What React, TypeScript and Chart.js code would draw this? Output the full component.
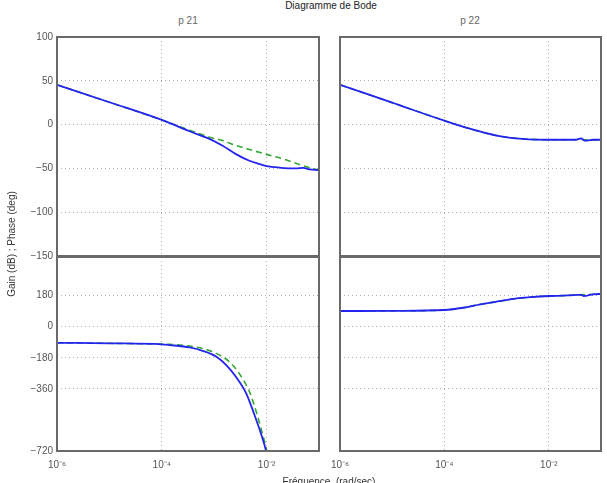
import React, { useEffect, useRef } from "react";
import { Chart, registerables } from "chart.js";

Chart.register(...registerables);

// ---------- data ----------
const xTicks = [1e-6, 1e-4, 1e-2];
const gainTicks = [-150, -100, -50, 0, 50, 100];
const phaseTicks = [-720, -360, -180, 0, 180];

// p 21 gain
const freqGain21Meas = [1e-6, 1e-5, 1e-4, 3.4e-4, 8.1e-4, 1.45e-3, 2.6e-3, 4.7e-3, 7.2e-3, 1e-2, 1.74e-2, 3.6e-2, 5e-2, 6.5e-2, 1e-1];
const gain21Meas = [45.5, 25.5, 5.3, -7.6, -16.3, -24.2, -33.7, -41.3, -45, -47.3, -49, -50, -49.4, -51, -52];
const freqGain21Model = [1e-6, 1e-5, 1e-4, 3.4e-4, 8.1e-4, 1.45e-3, 2.6e-3, 4.7e-3, 1e-2, 2.2e-2, 3.6e-2, 6.5e-2, 1e-1];
const gain21Model = [45.5, 25.5, 5.3, -6.4, -14.4, -18.2, -23.9, -28.4, -34, -39.7, -44.2, -49, -52];

// p 22 gain
const freqGain22Meas = [1e-6, 1e-5, 1e-4, 3.2e-4, 1e-3, 3.2e-3, 1e-2, 3.2e-2, 4.2e-2, 4.8e-2, 5.5e-2, 7e-2, 1e-1];
const gain22Meas = [45.5, 25, 4.5, -5, -12.5, -16.3, -17.3, -17.3, -15.8, -18.2, -18.2, -17.3, -17.3];
const freqGain22Model = [1e-6, 1e-5, 1e-4, 3.2e-4, 1e-3, 3.2e-3, 1e-2, 3.2e-2, 1e-1];
const gain22Model = [45.5, 25, 4.5, -5, -12.5, -16.3, -17.3, -17.3, -17.5];

// p 21 phase
const freqPhase21Meas = [1e-6, 1e-5, 1e-4, 1.4e-4, 3.4e-4, 6.2e-4, 1.1e-3, 1.7e-3, 2.6e-3, 4.1e-3, 5.9e-3, 7.8e-3, 9.8e-3, 1.17e-2];
const phase21Meas = [-93, -96, -102, -106, -120, -141, -174, -222, -290, -387, -513, -619, -722, -850];
const freqPhase21Model = [1e-6, 1e-5, 1e-4, 1.4e-4, 3.4e-4, 6.0e-4, 1.1e-3, 1.95e-3, 3.0e-3, 4.7e-3, 6.8e-3, 8.3e-3, 1.01e-2, 1.26e-2];
const phase21Model = [-93, -96, -101, -102, -112, -126, -155, -203, -271, -377, -523, -619, -722, -900];

// p 22 phase
const freqPhase22Meas = [1e-6, 1e-5, 1e-4, 2.3e-4, 4.9e-4, 1e-3, 2.1e-3, 4.4e-3, 1e-2, 1.9e-2, 3.6e-2, 4.2e-2, 4.7e-2, 5.6e-2, 7e-2, 1e-1];
const phase22Meas = [91, 92, 97, 110, 130, 145, 161, 171, 178, 180, 184, 185, 178, 181, 188, 190];
const freqPhase22Model = [1e-6, 1e-5, 1e-4, 2.3e-4, 4.9e-4, 1e-3, 2.1e-3, 4.4e-3, 1e-2, 1.9e-2, 3.6e-2, 1e-1];
const phase22Model = [91, 92, 97, 110, 130, 145, 161, 171, 178, 180, 184, 190];

// ---------- styling ----------
const BLUE = "#2424f0";
const GREEN = "#34a834";
const TEXT_FONT = "'Liberation Sans', Arial, Helvetica, sans-serif";
const SUP: Record<string, string> = { "-": "\u207B", "0": "\u2070", "1": "\u00B9", "2": "\u00B2", "3": "\u00B3", "4": "\u2074", "5": "\u2075", "6": "\u2076", "7": "\u2077", "8": "\u2078", "9": "\u2079" };

function toPoints(xs: number[], ys: number[]) {
  return xs.map((x, i) => ({ x, y: ys[i] }));
}

function powLabel(v: number) {
  const e = Math.round(Math.log10(v));
  return "10" + String(e).split("").map((c) => SUP[c] || c).join("");
}

const frameBox = {
  id: "frameBox",
  afterDraw(chart: any) {
    const { ctx, chartArea } = chart;
    ctx.save();
    ctx.strokeStyle = "#6a6a6a";
    ctx.lineWidth = 2;
    ctx.strokeRect(chartArea.left, chartArea.top, chartArea.right - chartArea.left, chartArea.bottom - chartArea.top);
    ctx.restore();
  },
};

function zeroPad(s: any) {
  s.paddingTop = 0;
  s.paddingBottom = 0;
  s.paddingLeft = 0;
  s.paddingRight = 0;
}

type PanelProps = {
  left: number; top: number; width: number; height: number;
  padTop: number; padRight: number; yWidth: number; xHeight: number;
  yMin: number; yMax: number; yTickValues: number[];
  showY: boolean; showX: boolean;
  meas: { x: number; y: number }[];
  model: { x: number; y: number }[];
};

function Panel(p: PanelProps) {
  const ref = useRef<HTMLCanvasElement | null>(null);
  useEffect(() => {
    if (!ref.current) return;
    const tickFont = { family: TEXT_FONT, size: 10 };
    const chart = new Chart(ref.current, {
      type: "line",
      data: {
        datasets: [
          { data: p.meas, borderColor: BLUE, borderWidth: 1.8, pointRadius: 0, cubicInterpolationMode: "monotone", fill: false },
          { data: p.model, borderColor: GREEN, borderWidth: 1.6, borderDash: [6, 4], pointRadius: 0, cubicInterpolationMode: "monotone", fill: false },
        ],
      },
      options: {
        animation: false,
        responsive: false,
        maintainAspectRatio: false,
        events: [],
        layout: { padding: { top: p.padTop, right: p.padRight, left: 0, bottom: 0 } },
        plugins: { legend: { display: false }, tooltip: { enabled: false }, title: { display: false } },
        scales: {
          x: {
            type: "logarithmic",
            min: 1e-6,
            max: 1e-1,
            afterBuildTicks: (s: any) => { s.ticks = xTicks.map((v) => ({ value: v })); },
            afterFit: (s: any) => { s.height = p.xHeight; zeroPad(s); },
            ticks: {
              display: p.showX,
              autoSkip: false,
              maxRotation: 0,
              padding: 8,
              color: "#555",
              font: tickFont,
              callback: (v: any) => powLabel(Number(v)),
            },
            grid: { color: "#b0b0b0", lineWidth: 1, drawTicks: false },
            border: { display: false, dash: [1, 3] },
          },
          y: {
            type: "linear",
            min: p.yMin,
            max: p.yMax,
            afterBuildTicks: (s: any) => { s.ticks = p.yTickValues.map((v) => ({ value: v })); },
            afterFit: (s: any) => { s.width = p.yWidth; zeroPad(s); },
            ticks: {
              display: p.showY,
              padding: 4,
              color: "#555",
              font: tickFont,
              callback: (v: any) => String(v).replace("-", "\u2212"),
            },
            grid: { color: "#b0b0b0", lineWidth: 1, drawTicks: false },
            border: { display: false, dash: [1, 3] },
          },
        },
      } as any,
      plugins: [frameBox],
    });
    return () => chart.destroy();
  }, []);
  return (
    <canvas
      ref={ref}
      width={p.width}
      height={p.height}
      style={{ position: "absolute", left: p.left, top: p.top, width: p.width, height: p.height }}
    />
  );
}

const textBase: React.CSSProperties = {
  position: "absolute",
  fontFamily: TEXT_FONT,
  fontSize: 10,
  lineHeight: "12px",
  whiteSpace: "pre",
};

export default function App() {
  return (
    <div style={{ position: "absolute", left: 0, top: 0, width: 607, height: 483, overflow: "hidden", background: "#fff" }}>
      <Panel left={0} top={30} width={325} height={240} padTop={7} padRight={6} yWidth={57} xHeight={14}
        yMin={-150} yMax={100} yTickValues={gainTicks} showY={true} showX={false}
        meas={toPoints(freqGain21Meas, gain21Meas)} model={toPoints(freqGain21Model, gain21Model)} />
      <Panel left={326} top={30} width={281} height={240} padTop={7} padRight={6} yWidth={14} xHeight={14}
        yMin={-150} yMax={100} yTickValues={gainTicks} showY={false} showX={false}
        meas={toPoints(freqGain22Meas, gain22Meas)} model={toPoints(freqGain22Model, gain22Model)} />
      <Panel left={0} top={250} width={325} height={233} padTop={7} padRight={6} yWidth={57} xHeight={32}
        yMin={-720} yMax={404} yTickValues={phaseTicks} showY={true} showX={true}
        meas={toPoints(freqPhase21Meas, phase21Meas)} model={toPoints(freqPhase21Model, phase21Model)} />
      <Panel left={326} top={250} width={281} height={233} padTop={7} padRight={6} yWidth={14} xHeight={32}
        yMin={-720} yMax={404} yTickValues={phaseTicks} showY={false} showX={true}
        meas={toPoints(freqPhase22Meas, phase22Meas)} model={toPoints(freqPhase22Model, phase22Model)} />

      <div style={{ ...textBase, left: 0, width: 662, top: 0, textAlign: "center", color: "#222" }}>Diagramme de Bode</div>
      <div style={{ ...textBase, left: 88, width: 200, top: 15, textAlign: "center", color: "#666" }}>p 21</div>
      <div style={{ ...textBase, left: 370, width: 200, top: 15, textAlign: "center", color: "#666" }}>p 22</div>
      <div style={{ ...textBase, left: 229, width: 200, top: 476, textAlign: "center", color: "#333" }}>Fréquence  (rad/sec)</div>
      <div style={{ ...textBase, left: 12 - 100, width: 200, top: 244 - 6, textAlign: "center", color: "#333", transform: "rotate(-90deg)" }}>Gain (dB) ; Phase (deg)</div>
    </div>
  );
}
